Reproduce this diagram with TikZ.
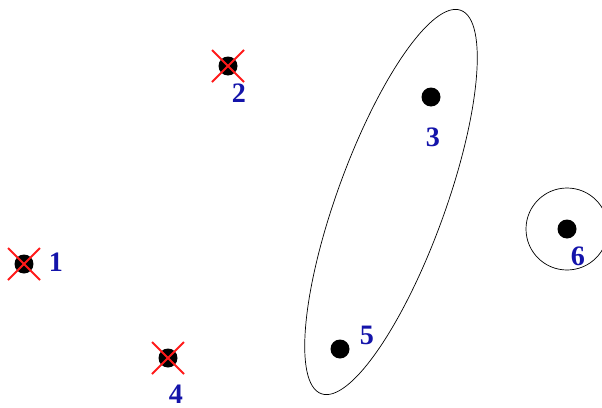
\documentclass[tikz,border=0pt]{standalone}
\usepackage{fontspec}
\setmainfont{Liberation Serif}
\definecolor{PTblue}{HTML}{1414AA}
\definecolor{PTred}{HTML}{FF1A1A}
\usetikzlibrary{calc}

\begin{document}
\begin{tikzpicture}[x=0.02cm, y=0.02cm,
      pt/.style={circle, fill=black, inner sep=0pt, minimum size=0.38cm},
      num/.style={text=PTblue, font=\fontsize{16}{18}\selectfont\bfseries, inner sep=0pt},
      cross/.style={PTred, line width=1.1pt}]
            \useasboundingbox (0,0) rectangle (602,407);
            % Points
            \node[pt] (p1) at (24,143) {};
            \node[pt] (p2) at (228,341) {};
            \node[pt] (p3) at (431,310) {};
            \node[pt] (p4) at (168,49) {};
            \node[pt] (p5) at (340,58) {};
            \node[pt] (p6) at (567,178) {};
            % Labels
            \node[num] (n1) at (56,145) {1};
            \node[num] (n2) at (239,314) {2};
            \node[num] (n3) at (433,270) {3};
            \node[num] (n4) at (176,13) {4};
            \node[num] (n5) at (367,72) {5};
            \node[num] (n6) at (578,151) {6};
            % Removed points
            \foreach \p in {p1,p2,p4}{
               \draw[cross] ($(\p)+(-16,16)$) -- ($(\p)+(16,-16)$);
               \draw[cross] ($(\p)+(-16,-16)$) -- ($(\p)+(16,16)$);
            }
            % Clusters
            \draw (391,205) [rotate around={70:(391,205)}] ellipse [x radius=204, y radius=54];
            \draw (p6) circle (41);
         \end{tikzpicture}
\end{document}
